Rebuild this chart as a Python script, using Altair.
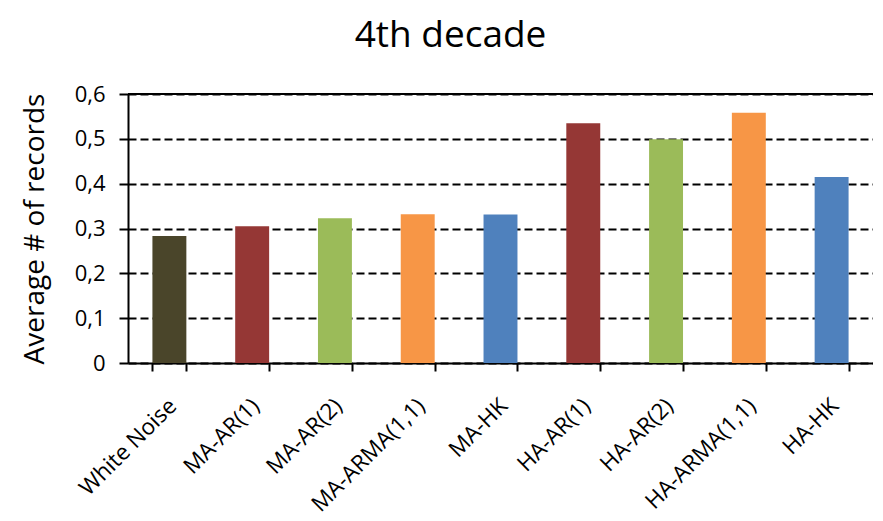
import altair as alt
import pandas as pd

categories = ["White Noise", "MA-AR(1)", "MA-AR(2)", "MA-ARMA(1,1)", "MA-HK",
              "HA-AR(1)", "HA-AR(2)", "HA-ARMA(1,1)", "HA-HK"]
values = [0.283, 0.305, 0.323, 0.332, 0.331, 0.535, 0.499, 0.558, 0.415]
colors = ["#4A452A", "#953735", "#9BBB59", "#F79646", "#4F81BD",
          "#953735", "#9BBB59", "#F79646", "#4F81BD"]
y_ticks = [0, 0.1, 0.2, 0.3, 0.4, 0.5, 0.6]

df = pd.DataFrame({"cat": categories, "val": values, "col": colors})

FONT = "Open Sans"

bars = alt.Chart(df).mark_bar().encode(
    x=alt.X("cat:N", sort=categories,
            scale=alt.Scale(paddingInner=0.59, paddingOuter=0.295),
            axis=alt.Axis(title=None, labelAngle=-45, labelAlign="right",
                          labelBaseline="middle", labelPadding=31, labelOffset=3,
                          tickBand="extent", tickSize=8, tickWidth=2, tickColor="black",
                          domainColor="black", domainWidth=2, labelFont=FONT,
                          labelFontSize=22.5, labelColor="black", grid=False)),
    y=alt.Y("val:Q", scale=alt.Scale(domain=[0, 0.6], nice=False),
            axis=alt.Axis(title="Average # of records", values=y_ticks,
                          labelExpr="replace(format(datum.value, '.1~f'), '.', ',')",
                          tickSize=9, tickWidth=2, tickColor="black",
                          domainColor="black", domainWidth=2,
                          labelFont=FONT, labelFontSize=22, labelColor="black",
                          labelPadding=14, titleFont=FONT, titleFontSize=28,
                          titleFontWeight="normal", titleColor="black", titlePadding=25,
                          grid=True, gridColor="black", gridDash=[8, 4], gridWidth=2)),
    color=alt.Color("col:N", scale=None),
)

top = alt.Chart(pd.DataFrame({"v": [0.6]})).mark_rule(color="black", strokeWidth=2).encode(
    y=alt.Y("v:Q", scale=alt.Scale(domain=[0, 0.6], nice=False))
)

chart = alt.layer(bars, top).properties(
    width=745, height=269,
    title=alt.TitleParams("4th decade", font=FONT, fontSize=37, fontWeight="normal",
                          color="black", anchor="middle", dx=-50, offset=28),
    autosize=alt.AutoSizeParams(type="none"),
    padding={"left": 120, "top": 86, "right": 0, "bottom": 158},
).configure_view(stroke=None).configure(background="white")

chart.save("out.html", embed_options={"renderer": "svg", "actions": False})
